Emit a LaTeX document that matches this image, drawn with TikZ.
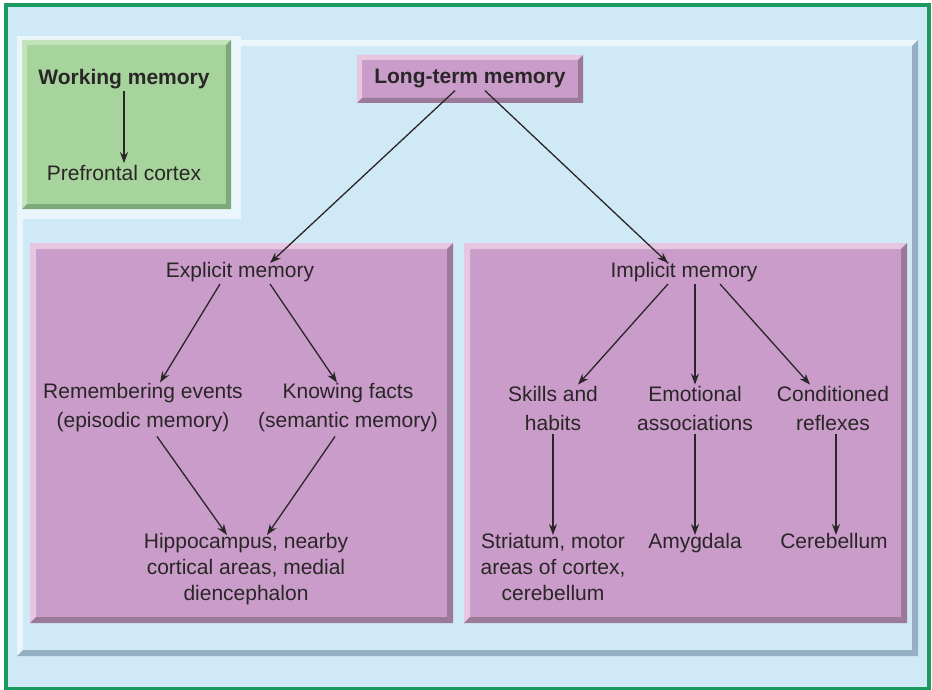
\documentclass[tikz,border=0pt]{standalone}
\usepackage{fontspec}
\setmainfont{Liberation Sans}
\usetikzlibrary{arrows.meta}
\definecolor{bgblue}{HTML}{CFE9F7}
\definecolor{frameg}{HTML}{1A9A5E}
\definecolor{panlight}{HTML}{EAF6FC}
\definecolor{panshade}{HTML}{93AFC2}
\definecolor{pinkm}{HTML}{C99CC9}
\definecolor{pinkl}{HTML}{E6C6E0}
\definecolor{pinkd}{HTML}{9A7A98}
\definecolor{greenm}{HTML}{A6D49C}
\definecolor{greenl}{HTML}{C4E4BC}
\definecolor{greend}{HTML}{7DA97A}
\definecolor{txt}{HTML}{2A2627}
\newcommand{\bevbox}[8]{%
  \fill[#5] (#1,#2) rectangle (#3,#4);
  \fill[#6] (#1,#2) -- (#3,#2) -- ({#3-#8},{#2+#8}) -- ({#1+#8},{#2+#8}) -- cycle;
  \fill[#6] (#1,#2) -- ({#1+#8},{#2+#8}) -- ({#1+#8},{#4-#8}) -- (#1,#4) -- cycle;
  \fill[#7] (#3,#2) -- (#3,#4) -- ({#3-#8},{#4-#8}) -- ({#3-#8},{#2+#8}) -- cycle;
  \fill[#7] (#1,#4) -- (#3,#4) -- ({#3-#8},{#4-#8}) -- ({#1+#8},{#4-#8}) -- cycle;
}
\tikzset{
  lbl/.style={font=\fontsize{21}{29}\selectfont, text=txt, align=center, inner sep=2pt},
  lbltri/.style={lbl, font=\fontsize{21}{26}\selectfont},
  blbl/.style={lbl, font=\fontsize{21}{27}\selectfont\bfseries},
  arr/.style={draw=txt, line width=1.3pt, -{Stealth[length=11pt,width=8pt]}}
}
\begin{document}
\begin{tikzpicture}[x=1pt,y=-1pt]
\useasboundingbox (0,0) rectangle (932,690);
% background and frame
\fill[white] (0,0) rectangle (932,690);
\fill[bgblue] (5.5,5.5) rectangle (928.5,688.5);
\draw[frameg, line width=4pt] (5.5,5.5) rectangle (928.5,688.5);
% inner L-shaped panel with bevel
\fill[panlight] (17,36) rectangle (241,219);
\fill[panlight] (241,40) -- (918,40) -- (912,46) -- (241,46) -- cycle;
\fill[panlight] (17,219) -- (23,219) -- (23,650) -- (17,656) -- cycle;
\fill[panshade] (918,40) -- (918,656) -- (912,650) -- (912,46) -- cycle;
\fill[panshade] (17,656) -- (918,656) -- (912,650) -- (23,650) -- cycle;
% working memory box
\bevbox{22}{40}{231}{209}{greenm}{greenl}{greend}{5}
% long-term memory box
\bevbox{357}{55}{583}{103}{pinkm}{pinkl}{pinkd}{5}
% panels
\bevbox{30}{243}{453}{623}{pinkm}{pinkl}{pinkd}{6}
\bevbox{464}{243}{907}{623}{pinkm}{pinkl}{pinkd}{6}
% nodes
\node[blbl] (wm) at (124,79) {Working memory};
\node[lbl] (pfc) at (124,173) {Prefrontal cortex};
\node[blbl] (ltm) at (470,79) {Long-term memory};
\node[lbl] (expl) at (240,272) {Explicit memory};
\node[lbl] (impl) at (684,272) {Implicit memory};
\node[lbl] (epi) at (143,408) {Remembering events\\(episodic memory)};
\node[lbl] (sem) at (348,408) {Knowing facts\\(semantic memory)};
\node[lbltri] (hip) at (246,569) {Hippocampus, nearby\\cortical areas, medial\\diencephalon};
\node[lbl] (ski) at (553,408) {Skills and\\habits};
\node[lbl] (emo) at (695,408) {Emotional\\associations};
\node[lbl] (con) at (833,408) {Conditioned\\reflexes};
\node[lbltri, anchor=north] (str) at (553,531) {Striatum, motor\\areas of cortex,\\cerebellum};
\node[lbl, anchor=north] (amy) at (695,531) {Amygdala};
\node[lbl, anchor=north] (cer) at (834,531) {Cerebellum};
% connectors
\draw[arr] (wm.south) -- (pfc.north);
\draw[arr] ([xshift=-15pt]ltm.south) -- ([xshift=30pt,yshift=-3pt]expl.north);
\draw[arr] ([xshift=15pt]ltm.south) -- ([xshift=-16pt,yshift=-3pt]impl.north);
\draw[arr] ([xshift=-20pt]expl.south) -- ([xshift=17pt,yshift=-1pt]epi.north);
\draw[arr] ([xshift=30pt]expl.south) -- ([xshift=-11pt,yshift=-1pt]sem.north);
\draw[arr] ([xshift=14pt,yshift=-2pt]epi.south) -- ([xshift=-19pt,yshift=-4pt]hip.north);
\draw[arr] ([xshift=-13pt,yshift=-2pt]sem.south) -- ([xshift=21pt,yshift=-4pt]hip.north);
\draw[arr] ([xshift=-16pt]impl.south) -- ([xshift=25pt,yshift=-1pt]ski.north);
\draw[arr] ([xshift=11pt]impl.south) -- ([yshift=-1pt]emo.north);
\draw[arr] ([xshift=36pt]impl.south) -- ([xshift=-23pt,yshift=-1pt]con.north);
\draw[arr] ([yshift=-2pt]ski.south) -- ([yshift=-4pt]str.north);
\draw[arr] ([yshift=-2pt]emo.south) -- ([yshift=-4pt]amy.north);
\draw[arr] ([yshift=-2pt,xshift=3pt]con.south) -- ([yshift=-4pt,xshift=2pt]cer.north);
\end{tikzpicture}
\end{document}
